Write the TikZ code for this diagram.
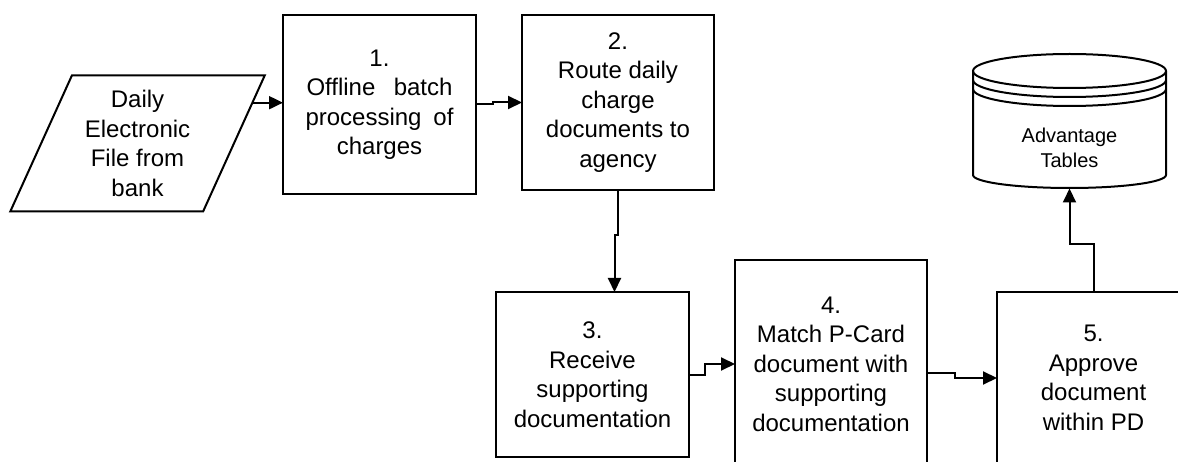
\documentclass[tikz,border=0pt]{standalone}
\usepackage{fontspec}
\setmainfont{Liberation Sans}
\usetikzlibrary{arrows.meta,shapes.geometric,calc}
\begin{document}
\begin{tikzpicture}
    [x=1pt, y=-1pt, line width=2pt,
     >={Triangle[length=14pt,width=13pt]},
     proc/.style={draw, rectangle, outer sep=0pt, inner sep=0pt,
       align=center, font=\fontsize{24}{29.5}\selectfont},
     flow/.style={->}]
    \def \dbl {973}
    \def \dbr {1166}

    \useasboundingbox (0,0) rectangle (1178,462);
    \clip (0,0) rectangle (1178,462);

    % input file from the bank
    \node[draw, trapezium, trapezium left angle=65, trapezium right angle=115,
      trapezium stretches=true, minimum width=255pt, minimum height=136pt,
      outer sep=0pt, inner sep=0pt, align=center,
      font=\fontsize{24}{29.5}\selectfont] (bank) at (137.5,143.5)
      {Daily\\Electronic\\File from\\bank};
    \coordinate (bankout) at ($(bank.top right corner)!0.2!(bank.bottom right corner)$);

    % process steps
    \node[proc, minimum width=193pt, minimum height=179pt] (b1) at (379.5,104.5)
      {1.\\\makebox[146pt][s]{Offline batch}\\\makebox[148pt][s]{processing of}\\charges};
    \node[proc, minimum width=192pt, minimum height=175pt] (b2) at (618,102.5)
      {2.\\Route daily\\charge\\documents to\\agency};
    \node[proc, minimum width=193pt, minimum height=165pt] (b3) at (592.5,374.5)
      {3.\\Receive\\supporting\\documentation};
    \node[proc, minimum width=192pt, minimum height=208pt] (b4) at (831,364)
      {4.\\Match P-Card\\document with\\supporting\\documentation};
    \node[proc, minimum width=193pt, minimum height=172pt] (b5) at (1093.5,378)
      {5.\\Approve\\document\\within PD};

    % database
    \node[minimum height=82pt, inner sep=0pt, outer sep=0pt, align=center,
      font=\fontsize{20}{25}\selectfont] (db) at (1069.5,147.5) {Advantage\\Tables};
    \draw (\dbl,71) -- (\dbl,175)
      arc[start angle=180, end angle=0, x radius=96.5, y radius=13] -- (\dbr,71);
    \draw (1069.5,71) ellipse [x radius=96.5, y radius=17];
    \foreach \r in {80,89}
      \draw (\dbl,\r) arc[start angle=180, end angle=0, x radius=96.5, y radius=17];

    % flow
    \draw[flow] (bankout) -- (bankout -| b1.west);
    \draw[flow] (b1.east) -- ++(17,0) |- (b2.west);
    \draw[flow] (b2.south) -- ++(0,45) -| ([xshift=22pt]b3.north);
    \draw[flow] (b3.east) -- ++(16,0) |- (b4.west);
    \draw[flow] ([yshift=-9pt]b4.east) -- ++(28,0) |- (b5.west);
    \draw[flow] (b5.north) -- ++(0,-48) -| (db.south);
\end{tikzpicture}
\end{document}
